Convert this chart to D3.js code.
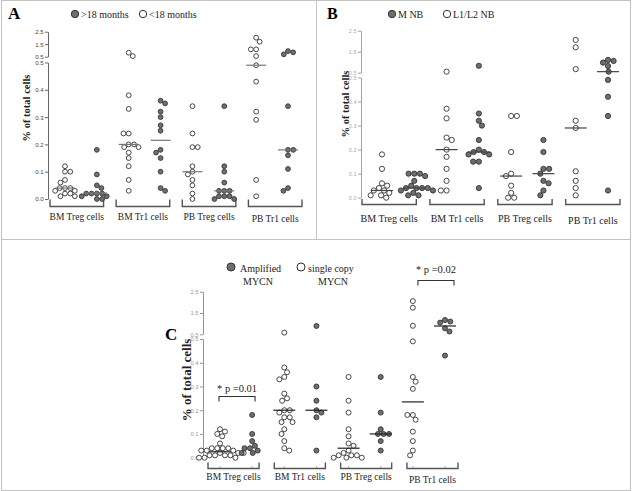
<!DOCTYPE html>
<html><head><meta charset="utf-8">
<script src="https://cdn.jsdelivr.net/npm/d3@7"></script>
<style>body{margin:0;background:#fff}svg{display:block}</style>
</head><body>
<svg id="chart" width="632" height="491"></svg>
<script>
// ---------- DATA ----------
const groups = ["BM Treg cells", "BM Tr1 cells", "PB Treg cells", "PB Tr1 cells"];
const ticksLower = [0.0, 0.1, 0.2, 0.3, 0.4, 0.5];
const ticksUpper = [0.5, 1.5, 2.5];
const yTitle = "% of total cells";

// Panel A: age
const aLegend = [">18 months", "<18 months"];
const aOpen = [ // <18 months
  [0.12, 0.10, 0.10, 0.07, 0.06, 0.04, 0.04, 0.04, 0.03, 0.03, 0.02, 0.02, 0.01, 0.01],
  [0.82, 0.55, 0.38, 0.33, 0.24, 0.24, 0.20, 0.20, 0.19, 0.19, 0.17, 0.15, 0.12, 0.07, 0.03],
  [0.34, 0.24, 0.19, 0.19, 0.12, 0.10, 0.09, 0.07, 0.05, 0.02, 0.00],
  [2.02, 1.70, 1.09, 1.09, 0.55, 0.49, 0.43, 0.32, 0.29, 0.07, 0.01]
];
const aFilled = [ // >18 months
  [0.18, 0.09, 0.05, 0.04, 0.02, 0.02, 0.02, 0.02, 0.01, 0.01, 0.00, 0.00],
  [0.36, 0.35, 0.32, 0.30, 0.27, 0.25, 0.18, 0.17, 0.15, 0.10, 0.04, 0.03],
  [0.34, 0.12, 0.10, 0.06, 0.03, 0.03, 0.03, 0.01, 0.01, 0.01, 0.00, 0.00],
  [0.95, 0.85, 0.69, 0.34, 0.18, 0.18, 0.16, 0.11, 0.04, 0.03]
];
const aOpenMedian = [0.04, 0.20, 0.10, 0.49];
const aFilledMedian = [0.022, 0.215, 0.03, 0.18];

// Panel B: stage
const bLegend = ["M NB", "L1/L2 NB"];
const bOpen = [ // L1/L2 NB
  [0.18, 0.12, 0.06, 0.05, 0.04, 0.03, 0.03, 0.02, 0.01, 0.01, 0.00],
  [0.55, 0.37, 0.33, 0.25, 0.24, 0.20, 0.17, 0.12, 0.07, 0.03, 0.03],
  [0.34, 0.34, 0.19, 0.10, 0.09, 0.05, 0.02, 0.00, 0.00],
  [2.06, 1.71, 0.67, 0.32, 0.29, 0.11, 0.07, 0.04, 0.01]
];
const bFilled = [ // M NB
  [0.10, 0.10, 0.10, 0.09, 0.07, 0.05, 0.04, 0.04, 0.04, 0.04, 0.03, 0.03, 0.02, 0.01, 0.01],
  [0.83, 0.35, 0.32, 0.30, 0.24, 0.20, 0.19, 0.19, 0.18, 0.18, 0.15, 0.15, 0.04],
  [0.24, 0.19, 0.12, 0.12, 0.10, 0.07, 0.06, 0.03, 0.01],
  [1.11, 1.06, 0.98, 0.82, 0.55, 0.49, 0.42, 0.34, 0.03]
];
const bOpenMedian = [0.03, 0.20, 0.09, 0.29];
const bFilledMedian = [0.04, 0.19, 0.10, 0.55];

// Panel C: MYCN status
const cLegend = [["Amplified", "MYCN"], ["single copy", "MYCN"]];
const cOpen = [ // single copy MYCN
  [0.12, 0.11, 0.10, 0.09, 0.06, 0.04, 0.04, 0.04, 0.04, 0.03, 0.03, 0.03, 0.02, 0.02, 0.02, 0.01, 0.01, 0.01, 0.01, 0.00, 0.00, 0.00],
  [0.58, 0.38, 0.36, 0.34, 0.33, 0.27, 0.25, 0.24, 0.20, 0.20, 0.19, 0.17, 0.17, 0.15, 0.15, 0.12, 0.10, 0.07, 0.04, 0.03],
  [0.34, 0.24, 0.19, 0.12, 0.09, 0.06, 0.05, 0.03, 0.02, 0.01, 0.01, 0.01, 0.00, 0.00, 0.00],
  [2.06, 1.75, 0.90, 0.49, 0.34, 0.32, 0.29, 0.18, 0.18, 0.16, 0.11, 0.07, 0.03, 0.01]
];
const cFilled = [ // Amplified MYCN
  [0.18, 0.10, 0.07, 0.05, 0.04, 0.04, 0.03, 0.02, 0.02],
  [0.89, 0.30, 0.24, 0.20, 0.19, 0.17, 0.03],
  [0.34, 0.19, 0.12, 0.10, 0.10, 0.10, 0.07, 0.03],
  [1.17, 1.10, 1.05, 0.78, 0.63, 0.43]
];
const cOpenMedian = [0.025, 0.20, 0.04, 0.235];
const cFilledMedian = [null, 0.20, 0.10, 0.89];
const cPValues = ["* p =0.01", "* p =0.02"];
const cPGroups = ["BM Treg cells", "PB Tr1 cells"];

// ---------- DRAWING ----------
const svg = d3.select("#chart");
const SERIF = "'Liberation Serif','Times New Roman',serif";
const SANS = "'Liberation Sans',Arial,sans-serif";

// frame
const frame = svg.append("g").attr("fill", "none").attr("stroke", "#c4c4c4").attr("stroke-width", 1);
frame.append("rect").attr("x", 1.5).attr("y", 0.5).attr("width", 629).attr("height", 490);
frame.append("line").attr("x1", 316.5).attr("x2", 316.5).attr("y1", 0).attr("y2", 239.5);
frame.append("line").attr("x1", 1.5).attr("x2", 630.5).attr("y1", 239.5).attr("y2", 239.5);

function swarm(vals, yf, r) {
  const d = 2 * r + 0.5;
  const pts = vals.map(v => ({ v, y: yf(v), x: 0 }));
  const order = pts.slice().sort((a, b) => a.y - b.y);
  const placed = [];
  let flip = 1;
  for (const p of order) {
    const cands = [0];
    for (const q of placed) {
      const dy = Math.abs(q.y - p.y);
      if (dy < d) {
        const dx = Math.sqrt(d * d - dy * dy);
        cands.push(q.x + dx, q.x - dx);
      }
    }
    const ok = c => placed.every(q => (q.x - c) ** 2 + (q.y - p.y) ** 2 >= d * d - 0.01);
    const valid = cands.filter(ok).sort((a, b) => (Math.abs(a) - Math.abs(b)) || (flip * (b - a)));
    p.x = valid.length ? valid[0] : 0;
    if (p.x !== 0) flip = -flip;
    placed.push(p);
  }
  return pts;
}

function drawPanel(c) {
  const g = svg.append("g");
  const yLow = d3.scaleLinear().domain([0, 0.5]).range(c.yLow);
  const yUp = d3.scaleLinear().domain([0.5, 2.5]).range(c.yUp);
  const y = v => v > 0.5 ? yUp(v) : yLow(v);

  const colKeys = groups.flatMap(gr => [gr + "|open", gr + "|filled"]);
  const xCol = d3.scalePoint().domain(colKeys).range(c.colRange);
  const band = d3.scaleBand().domain(groups).range(c.bracketRange).paddingInner(c.pad);

  // letter
  g.append("text").attr("x", c.letter[1]).attr("y", c.letter[2])
    .attr("font-family", SERIF).attr("font-weight", "bold").attr("font-size", c.letter[3])
    .text(c.letter[0]);

  // axes
  const fmt = d3.format(".1f");
  const axL = g.append("g").attr("transform", `translate(${c.axisX},0)`)
    .call(d3.axisLeft(yLow).tickValues(ticksLower).tickFormat(fmt).tickSize(3).tickSizeOuter(0).tickPadding(1.5));
  const axU = g.append("g").attr("transform", `translate(${c.axisX},0)`)
    .call(d3.axisLeft(yUp).tickValues(ticksUpper).tickFormat(fmt).tickSize(3).tickSizeOuter(0).tickPadding(1.5));
  [axL, axU].forEach(ax => {
    ax.selectAll("path,line").attr("stroke", c.axisColor).attr("stroke-width", 0.9);
    ax.selectAll("text").attr("font-family", SANS).attr("font-size", c.tickFont).attr("fill", c.tickColor);
  });

  // y title
  g.append("text").attr("transform", `translate(${c.title[0]},${c.title[1]}) rotate(-90)`)
    .attr("text-anchor", "middle").attr("dominant-baseline", "middle")
    .attr("font-family", SERIF).attr("font-weight", "bold").attr("font-size", c.title[2])
    .attr("fill", "#222").text(yTitle);

  // legend
  c.legend.forEach(L => {
    g.append("circle").attr("cx", L.cx).attr("cy", L.cy).attr("r", L.r)
      .attr("fill", L.filled ? "#6f6f6f" : "#fff").attr("stroke", "#333").attr("stroke-width", 1);
    const lines = Array.isArray(L.text) ? L.text : [L.text];
    lines.forEach((t, i) => {
      g.append("text").attr("x", L.tx[i]).attr("y", L.ty + i * 13)
        .attr("text-anchor", i > 0 ? "middle" : "start")
        .attr("font-family", SERIF).attr("font-size", L.fs).attr("fill", "#222").text(t);
    });
  });

  // brackets
  groups.forEach((gr, i) => {
    const x0 = band(gr), x1 = x0 + band.bandwidth();
    g.append("path").attr("d", `M${x0},${c.bTop}V${c.bBot}H${x1}V${c.bTop}`)
      .attr("fill", "none").attr("stroke", "#555").attr("stroke-width", 1.4);
    g.append("text").attr("x", x0 + band.bandwidth() / 2).attr("y", c.labelY + (i === 3 ? 2.5 : 0))
      .attr("text-anchor", "middle").attr("font-family", SERIF).attr("font-size", c.labelFont)
      .attr("fill", "#222").text(gr);
  });
  if (c.colTicks) {
    colKeys.forEach(k => {
      g.append("line").attr("x1", xCol(k)).attr("x2", xCol(k)).attr("y1", c.bBot - 2.5).attr("y2", c.bBot - 0.5)
        .attr("stroke", "#999").attr("stroke-width", 0.8);
    });
  }

  // points
  const series = [
    { key: "open", data: c.open, med: c.openMed },
    { key: "filled", data: c.filled, med: c.filledMed }
  ];
  series.forEach(s => {
    groups.forEach((gr, gi) => {
      const cx = xCol(gr + "|" + s.key);
      const pts = swarm(s.data[gi], y, c.r);
      g.append("g").selectAll("circle").data(pts).join("circle")
        .attr("cx", d => cx + d.x).attr("cy", d => d.y).attr("r", c.r)
        .attr("fill", s.key === "filled" ? "#6f6f6f" : "#fff")
        .attr("stroke", "#333").attr("stroke-width", 0.9);
      const m = s.med[gi];
      if (m != null) {
        g.append("line").attr("x1", cx - c.medHalf).attr("x2", cx + c.medHalf)
          .attr("y1", y(m)).attr("y2", y(m))
          .attr("stroke", c.medColor).attr("stroke-width", 1.2);
      }
    });
  });
  return { g, y, band };
}

// Panel A
drawPanel({
  letter: ["A", 8, 19, 17],
  axisX: 48, yLow: [199, 62.5], yUp: [56.7, 31.7],
  colRange: [65, 288], bracketRange: [50, 302], pad: 0.19,
  bTop: 199.5, bBot: 206.5, labelY: 219.5, labelFont: 9.5,
  axisColor: "#555", tickColor: "#444", tickFont: 6,
  title: [28, 108, 10.5],
  legend: [
    { cx: 75, cy: 14, r: 3.7, filled: true, text: aLegend[0], tx: [81], ty: 17.5, fs: 10 },
    { cx: 143, cy: 14, r: 3.7, filled: false, text: aLegend[1], tx: [149], ty: 17.5, fs: 10 }
  ],
  open: aOpen, filled: aFilled, openMed: aOpenMedian, filledMed: aFilledMedian,
  r: 2.4, medHalf: 10, medColor: "#777"
});

// Panel B
drawPanel({
  letter: ["B", 327, 19, 16],
  axisX: 361, yLow: [197.7, 77.5], yUp: [72.7, 30.7],
  colRange: [382, 608], bracketRange: [362, 620], pad: 0.2,
  bTop: 199, bBot: 204.5, labelY: 221.5, labelFont: 10,
  axisColor: "#999", tickColor: "#aaa", tickFont: 5.5,
  title: [347, 104, 10.5],
  legend: [
    { cx: 392, cy: 14, r: 3.7, filled: true, text: bLegend[0], tx: [398], ty: 18, fs: 10 },
    { cx: 447, cy: 14, r: 3.7, filled: false, text: bLegend[1], tx: [453], ty: 18, fs: 10 }
  ],
  open: bOpen, filled: bFilled, openMed: bOpenMedian, filledMed: bFilledMedian,
  r: 2.6, medHalf: 11, medColor: "#444"
});

// Panel C
const pc = drawPanel({
  letter: ["C", 165, 340, 17],
  axisX: 203, yLow: [457.7, 339], yUp: [334.3, 291.7],
  colRange: [220, 445], bracketRange: [208, 458], pad: 0.23,
  bTop: 462.5, bBot: 468.5, labelY: 480, labelFont: 9.5,
  axisColor: "#888", tickColor: "#999", tickFont: 5.8,
  title: [188, 380, 13],
  legend: [
    { cx: 231, cy: 267, r: 4, filled: true, text: cLegend[0], tx: [240, 258], ty: 271.5, fs: 10 },
    { cx: 301, cy: 267, r: 4, filled: false, text: cLegend[1], tx: [308, 333], ty: 271.5, fs: 10 }
  ],
  open: cOpen, filled: cFilled, openMed: cOpenMedian, filledMed: cFilledMedian,
  r: 2.5, medHalf: 11, medColor: "#222", colTicks: true
});

// significance brackets in C
const pLayout = [{ ty: 392, top: 396.5, bot: 401.5 }, { ty: 273, top: 280.5, bot: 285.5 }];
cPGroups.forEach((gr, i) => {
  const x0 = pc.band(gr) + 11, x1 = pc.band(gr) + pc.band.bandwidth() - 4;
  const L = pLayout[i];
  pc.g.append("path").attr("d", `M${x0},${L.bot}V${L.top}H${x1}V${L.bot}`)
    .attr("fill", "none").attr("stroke", "#333").attr("stroke-width", 1.1);
  pc.g.append("text").attr("x", (x0 + x1) / 2).attr("y", L.ty).attr("text-anchor", "middle")
    .attr("font-family", SERIF).attr("font-size", 10.5).attr("fill", "#222").text(cPValues[i]);
});
</script>
</body></html>
